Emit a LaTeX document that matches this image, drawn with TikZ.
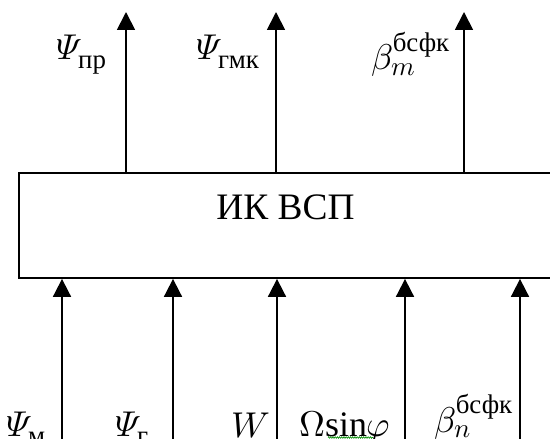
\documentclass[tikz,border=0pt]{standalone}
\usepackage{amsmath}
\usepackage{fontspec}
\usepackage{unicode-math}
\setmainfont{Liberation Serif}
\setmathfont{Latin Modern Math}
\usetikzlibrary{arrows.meta,decorations.pathmorphing}
\DeclareMathSizes{36}{36}{27}{20}
\tikzset{
  sig/.style={line width=1.8bp, -{Triangle[width=18bp,length=18bp]}},
  blk/.style={draw, line width=1.8bp, minimum width=551bp, minimum height=105bp, inner sep=0pt},
  lbl/.style={anchor=base west, inner sep=0pt, font=\fontsize{36}{40}\selectfont},
  ttl/.style={inner sep=0pt, font=\fontsize{37.5}{40}\selectfont},
}
\newcommand{\cy}[1]{\text{\fontsize{27}{27}\selectfont #1}}
\newcommand{\iPsi}{\symit{\Psi}}
\begin{document}
\begin{tikzpicture}[x=1bp,y=-1bp]
\useasboundingbox (0,0) rectangle (550,439);
\clip (0,0) rectangle (550,439);
\fill[white] (0,0) rectangle (550,439);
% block
\node[blk] (ik) at (294.5,225.5) {};
\node[ttl] (ikt) at (285.5,207) {ИК ВСП};
% top outputs
\coordinate (t1) at (126,12);
\coordinate (t2) at (276,12);
\coordinate (t3) at (464,12);
\draw[sig] (ik.north -| t1) -- (t1);
\draw[sig] (ik.north -| t2) -- (t2);
\draw[sig] (ik.north -| t3) -- (t3);
% bottom inputs
\coordinate (b1) at (62,442);
\coordinate (b2) at (173,442);
\coordinate (b3) at (277,442);
\coordinate (b4) at (405,442);
\coordinate (b5) at (520,442);
\draw[sig] (b1) -- (b1 |- ik.south);
\draw[sig] (b2) -- (b2 |- ik.south);
\draw[sig] (b3) -- (b3 |- ik.south);
\draw[sig] (b4) -- (b4 |- ik.south);
\draw[sig] (b5) -- (b5 |- ik.south);
% top labels
\node[lbl] (lpr) at (56,60) {$\iPsi_{\cy{пр}}$};
\node[lbl] (lgmk) at (196,60) {$\iPsi_{\cy{гмк}}$};
\node[lbl] (lbm) at (371,70) {$\beta_m^{\cy{бсфк}}$};
% bottom labels
\node[lbl] (lm) at (6,436) {$\iPsi_{\cy{м}}$};
\node[lbl] (lg) at (115,436) {$\iPsi_{\cy{г}}$};
\node[lbl] (lw) at (231,437) {$W$};
\node[lbl] (lom) at (299,436) {$\Omega\mathrm{sin}\varphi$};
\node[lbl] (lbn) at (434,432) {$\beta_n^{\cy{бсфк}}$};
\draw[green!55!black, line width=0.6bp, decorate, decoration={zigzag, segment length=2.2bp, amplitude=0.8bp}] (328,437.5) -- (373,437.5);
\end{tikzpicture}
\end{document}
